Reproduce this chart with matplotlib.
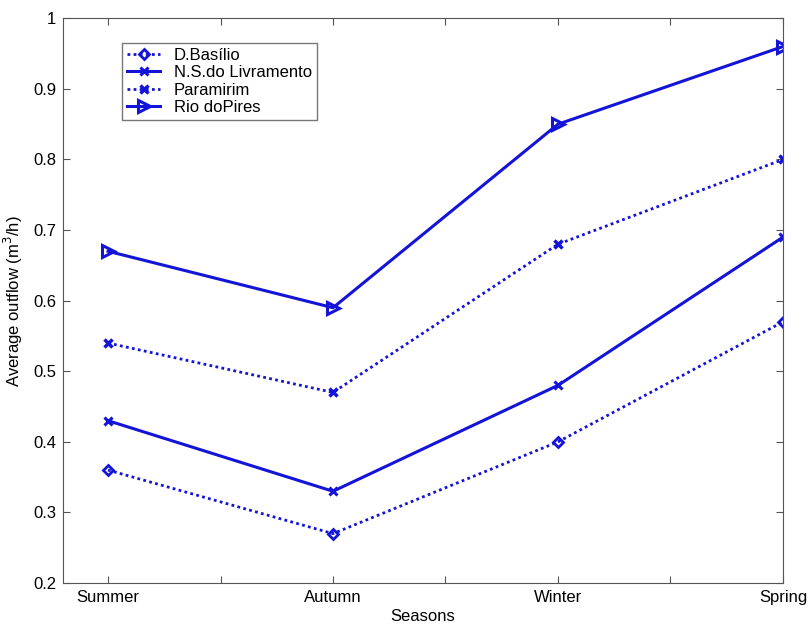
import matplotlib
matplotlib.use('Agg')
import matplotlib.pyplot as plt

plt.rcParams['font.family'] = ['Liberation Sans', 'DejaVu Sans']

# data
seasons = ['Summer', 'Autumn', 'Winter', 'Spring']
x_pos = [1, 2, 3, 4]
d_basilio = [0.36, 0.27, 0.40, 0.57]
ns_livramento = [0.43, 0.33, 0.48, 0.69]
paramirim = [0.54, 0.47, 0.68, 0.80]
rio_do_pires = [0.67, 0.59, 0.85, 0.96]

color = '#1414d8'
dots = (0, (1, 1.2))

fig = plt.figure(figsize=(8.08, 6.31), dpi=100)
ax = fig.add_axes([0.078, 0.076, 0.891, 0.895])

ax.plot(x_pos, d_basilio, linestyle=dots, linewidth=2, color=color,
        marker='D', markersize=5.5, markerfacecolor='none', markeredgewidth=2, label='D.Basílio')
ax.plot(x_pos, ns_livramento, linestyle='-', linewidth=2.2, color=color,
        marker='x', markersize=6, markeredgewidth=2.2, label='N.S.do Livramento')
ax.plot(x_pos, paramirim, linestyle=dots, linewidth=2, color=color,
        marker='x', markersize=6, markeredgewidth=2.5, label='Paramirim')
ax.plot(x_pos, rio_do_pires, linestyle='-', linewidth=2.2, color=color,
        marker='>', markersize=8, markerfacecolor='none', markeredgewidth=2.2, label='Rio doPires')

ax.set_xlim(0.8, 4)
ax.set_ylim(0.2, 1)
ax.set_xticks([1, 1.5, 2, 2.5, 3, 3.5, 4])
ax.set_xticklabels(['Summer', '', 'Autumn', '', 'Winter', '', 'Spring'])
ax.set_yticks([0.2, 0.3, 0.4, 0.5, 0.6, 0.7, 0.8, 0.9, 1.0])
ax.set_yticklabels(['0.2', '0.3', '0.4', '0.5', '0.6', '0.7', '0.8', '0.9', '1'])
ax.tick_params(direction='in', length=5, labelsize=12, color='#555555',
               top=True, right=True, pad=5)
for s in ax.spines.values():
    s.set_color('#555555')

ax.set_xlabel('Seasons', fontsize=12, labelpad=3)
ax.set_ylabel('Average outflow (m$^3$/h)', fontsize=12, labelpad=6)

leg = ax.legend(loc='upper left', bbox_to_anchor=(0.082, 0.957), fontsize=12,
                fancybox=False, edgecolor='#555555', handlelength=2.0,
                borderpad=0.3, labelspacing=0.15, handletextpad=0.8,
                borderaxespad=0)
leg.get_frame().set_linewidth(1)

fig.savefig('out.png', dpi=100)
